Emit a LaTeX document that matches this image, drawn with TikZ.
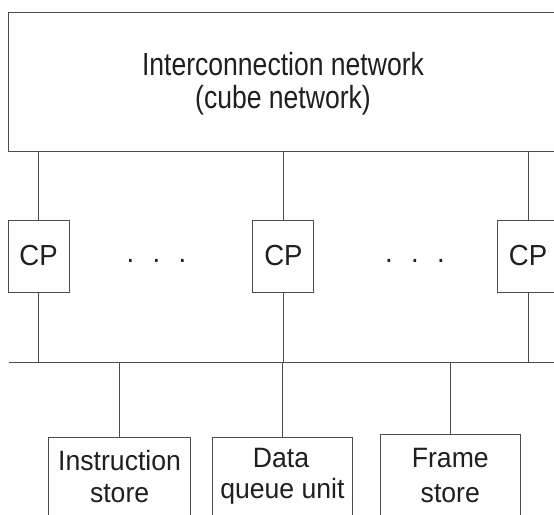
\documentclass[tikz,border=0pt]{standalone}
\usepackage{fontspec}
\setmainfont{Liberation Sans}
\newfontfamily\titlefont{Liberation Sans}[FakeStretch=0.83]
\newfontfamily\boxfont{Liberation Sans}[FakeStretch=0.95]
\begin{document}
\begin{tikzpicture}[x=1pt,y=-1pt,
  ln/.style={draw=black!70, line width=0.9pt},
  boxnode/.style={ln, rectangle, inner sep=0pt},
  titletext/.style={font=\titlefont\fontsize{32}{38}\selectfont, text=black!88, inner sep=0pt},
  cptext/.style={font=\boxfont\fontsize{29}{34}\selectfont, text=black!88},
  lowtext/.style={font=\boxfont\fontsize{28}{32}\selectfont, text=black!88, inner sep=0pt}]
\useasboundingbox (0,0) rectangle (554,514);
\clip (0,0) rectangle (554,514);
% interconnection network
\node[boxnode, minimum width=549.5pt, minimum height=139pt] (net) at (283.25,82.2) {};
\node[titletext, anchor=base] (t1) at (283,75.7) {Interconnection network};
\node[titletext, anchor=base] (t2) at (283,108) {(cube network)};
% CPs
\node[boxnode, cptext, minimum width=61pt, minimum height=72pt] (cp1) at (38.6,256) {CP};
\node[boxnode, cptext, minimum width=61pt, minimum height=72pt] (cp2) at (283.4,256) {CP};
\node[boxnode, cptext, minimum width=61pt, minimum height=72pt] (cp3) at (528,256) {CP};
\node[cptext, anchor=base, inner sep=0pt] (dotsL) at (156.5,262) {.\hspace{18.3pt}.\hspace{18.3pt}.};
\node[cptext, anchor=base, inner sep=0pt] (dotsR) at (415,262) {.\hspace{18.3pt}.\hspace{18.3pt}.};
\foreach \c in {cp1,cp2,cp3} \draw[ln] (\c.north) -- (\c.north |- net.south);
% bus
\coordinate (busL) at (8.5,362);
\coordinate (busR) at (560,362);
\draw[ln] (busL) -- (busR);
\foreach \c in {cp1,cp2,cp3} \draw[ln] (\c.south) -- (\c.south |- busL);
% stores
\node[boxnode, minimum width=142pt, minimum height=103pt] (instr) at (119.6,488.5) {};
\node[boxnode, minimum width=140pt, minimum height=103pt] (dq) at (282.4,488.5) {};
\node[boxnode, minimum width=139.4pt, minimum height=106pt] (frame) at (450.3,487) {};
\foreach \c in {instr,dq,frame} \draw[ln] (\c.north) -- (\c.north |- busL);
\node[lowtext, anchor=base] (instrA) at (119.6,470) {Instruction};
\node[lowtext, anchor=base] (instrB) at (119.6,502) {store};
\node[lowtext, anchor=base] (dqA) at (281,467) {Data};
\node[lowtext, anchor=base] (dqB) at (282.4,498.5) {queue unit};
\node[lowtext, anchor=base] (frameA) at (450.3,467) {Frame};
\node[lowtext, anchor=base] (frameB) at (450.3,502) {store};
\end{tikzpicture}
\end{document}
